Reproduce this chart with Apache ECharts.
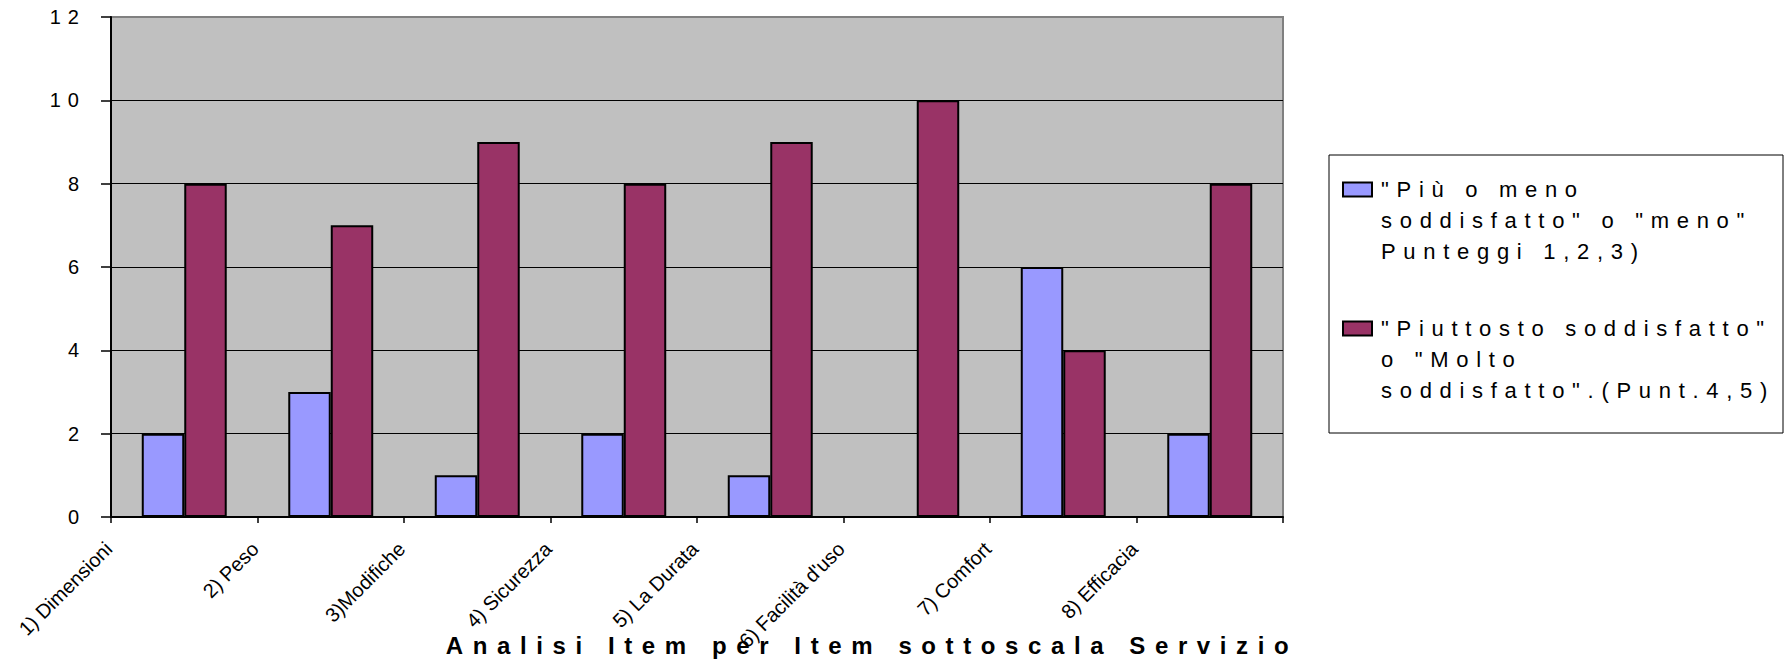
<!DOCTYPE html>
<html>
<head>
<meta charset="utf-8">
<script src="https://cdn.jsdelivr.net/npm/echarts@6/dist/echarts.min.js"></script>
<style>
  html, body { margin: 0; padding: 0; background: #ffffff; }
  #chart { width: 1784px; height: 660px; }
  /* widely spaced lettering for the numbers, legend and axis title */
  #chart text { letter-spacing: 0.35em; }
  /* the slanted category labels keep normal spacing */
  #chart text[transform^="matrix"] { letter-spacing: 0; }
  #chart text[style*="bold"] { letter-spacing: 0.4em; }
</style>
</head>
<body>
<div id="chart"></div>
<script>
// Item categories of the "Servizio" subscale
const categories = [
  '1) Dimensioni',
  '2) Peso',
  '3)Modifiche',
  '4) Sicurezza',
  '5) La Durata',
  '6) Facilità d\'uso',
  '7) Comfort',
  '8) Efficacia'
];

// Number of answers per item
const lessSatisfied = [2, 3, 1, 2, 1, 0, 6, 2];   // scores 1,2,3
const satisfied     = [8, 7, 9, 8, 9, 10, 4, 8];  // scores 4,5

const seriesNames = [
  '"Più o meno soddisfatto" o "meno" Punteggi 1,2,3)',
  '"Piuttosto soddisfatto" o "Molto soddisfatto".(Punt.4,5)'
];
// Legend text, broken into lines
const legendLines = [
  ['"Più o meno', 'soddisfatto" o "meno"', 'Punteggi 1,2,3)'],
  ['"Piuttosto soddisfatto"', 'o "Molto', 'soddisfatto".(Punt.4,5)']
];

const axisTitle = 'Analisi Item per Item sottoscala Servizio';
const seriesColors = ['#9999FF', '#993366'];

const FONT = '"Liberation Sans", Arial, sans-serif';

const chart = echarts.init(document.getElementById('chart'), null, { renderer: 'svg' });

const legendRich = {
  gap: { width: 10 },
  ind: { width: 37 },
  t: { width: 368, fontSize: 22, lineHeight: 31, color: '#000', fontFamily: FONT }
};
seriesColors.forEach((c, i) => {
  legendRich['sw' + i] = {
    width: 27, height: 12, backgroundColor: c,
    borderColor: '#000', borderWidth: 2
  };
});

chart.setOption({
  backgroundColor: '#ffffff',
  animation: false,
  textStyle: { fontFamily: FONT, color: '#000' },
  grid: {
    left: 111, top: 17, width: 1172, height: 500,
    containLabel: false,
    outerBoundsMode: 'none',
    show: true,
    backgroundColor: '#C0C0C0',
    borderColor: '#808080',
    borderWidth: 2
  },
  legend: {
    orient: 'vertical',
    left: 1329, top: 155,
    padding: [19, 34, 27, 10],
    itemGap: 46,
    icon: 'none',
    itemWidth: 0, itemHeight: 12,
    backgroundColor: '#ffffff',
    borderColor: '#000',
    borderWidth: 1,
    selectedMode: false,
    data: seriesNames,
    formatter: function (name) {
      const idx = seriesNames.indexOf(name);
      return legendLines[idx].map(function (line, i) {
        return (i === 0 ? '{sw' + idx + '|}{gap|}' : '{ind|}') + '{t|' + line + '}';
      }).join('\n');
    },
    textStyle: { fontSize: 22, lineHeight: 31, color: '#000', fontFamily: FONT, rich: legendRich }
  },
  xAxis: {
    type: 'category',
    data: categories,
    axisLine: { show: true, lineStyle: { color: '#000', width: 2 } },
    axisTick: { show: true, length: 6, lineStyle: { color: '#000', width: 1.5 } },
    axisLabel: {
      interval: 0,
      rotate: 45,
      margin: 8,
      verticalAlign: 'bottom',
      padding: [0, 68, 29, 0],
      fontSize: 20,
      color: '#000',
      fontFamily: FONT
    },
    splitLine: { show: false },
    name: axisTitle,
    nameLocation: 'middle',
    nameGap: 116,
    nameMoveOverlap: false,
    nameTextStyle: {
      fontSize: 24, fontWeight: 'bold', color: '#000', fontFamily: FONT,
      verticalAlign: 'top',
      padding: [0, 0, 0, 350]
    }
  },
  yAxis: {
    type: 'value',
    min: 0, max: 12, interval: 2,
    axisLine: { show: true, lineStyle: { color: '#000', width: 2 } },
    axisTick: { show: true, inside: false, length: 10, lineStyle: { color: '#000', width: 1.5 } },
    axisLabel: { margin: 25, fontSize: 20, color: '#000', fontFamily: FONT },
    splitLine: { show: true, showMinLine: false, showMaxLine: false, lineStyle: { color: '#000', width: 1 } }
  },
  series: [
    {
      name: seriesNames[0],
      type: 'bar',
      data: lessSatisfied,
      barWidth: '29%',
      barGap: '0%',
      itemStyle: { color: seriesColors[0], borderColor: '#000', borderWidth: 2 }
    },
    {
      name: seriesNames[1],
      type: 'bar',
      data: satisfied,
      barWidth: '29%',
      barGap: '0%',
      itemStyle: { color: seriesColors[1], borderColor: '#000', borderWidth: 2 }
    }
  ]
});
</script>
</body>
</html>
